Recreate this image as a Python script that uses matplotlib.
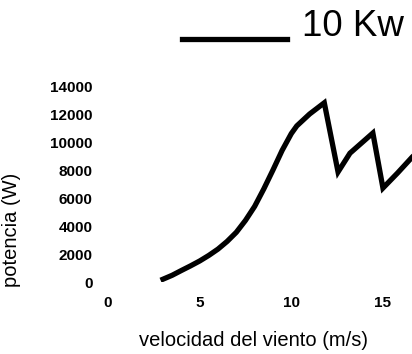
#!/usr/bin/env python3

import matplotlib
matplotlib.rcParams['font.family'] = ['Liberation Sans', 'DejaVu Sans']
import matplotlib.pyplot as plt
from matplotlib.legend_handler import HandlerLine2D


# wind speed (m/s) and power (W)
velocidad = [3, 3.5, 4, 4.5, 5, 5.5, 6, 6.5, 7, 7.5, 8, 8.5, 9, 9.5, 10,
             10.3, 11, 11.8, 12.55, 13.2, 14.45, 15.0, 15.8, 16.6, 17.0]
potencia = [200, 480, 820, 1150, 1500, 1900, 2350, 2900, 3550, 4400, 5400,
            6650, 8000, 9400, 10600, 11150, 12000, 12800, 7860, 9200, 10640,
            6710, 7790, 8930, 9400]

x_ticks = [0, 5, 10, 15]
y_ticks = [0, 2000, 4000, 6000, 8000, 10000, 12000, 14000]
serie = "10 Kw"


class BaselineLine(HandlerLine2D):
    # put the legend line on the text baseline instead of mid-height
    def create_artists(self, legend, orig_handle, xdescent, ydescent,
                       width, height, fontsize, trans):
        arts = super().create_artists(legend, orig_handle, xdescent, ydescent,
                                      width, height, fontsize, trans)
        for a in arts:
            yd = a.get_ydata()
            a.set_ydata([y - 0.42 * fontsize for y in yd])
        return arts


fig = plt.figure(figsize=(4.12, 3.54), dpi=100)
ax = fig.add_axes([108/412, 1 - 282/354, 304/412, 196/354])

line, = ax.plot(velocidad, potencia, color="black", lw=3.8,
                solid_joinstyle="miter", label=serie)

ax.set_xlim(0, 304/18.33)
ax.set_ylim(0, 14000)
ax.set_xticks(x_ticks)
ax.set_yticks(y_ticks)
ax.tick_params(length=0, labelsize=11)
ax.tick_params(axis="y", pad=11)
ax.tick_params(axis="x", pad=10)
for lab in ax.get_xticklabels() + ax.get_yticklabels():
    lab.set_fontweight("bold")
for s in ax.spines.values():
    s.set_visible(False)

ax.set_xlabel("velocidad del viento (m/s)", fontsize=14.5)
ax.xaxis.set_label_coords(0.48, -0.25)
ax.set_ylabel("potencia (W)", fontsize=14.5)
ax.yaxis.set_label_coords(-0.285, 0.265)

fig.legend(handles=[line], loc="lower left",
           bbox_to_anchor=(182/412, 1 - 44/354), frameon=False,
           fontsize=26.5, borderpad=0, borderaxespad=0,
           handlelength=2.85, handletextpad=0.4,
           handler_map={line: BaselineLine()})

fig.savefig("out.png", dpi=100)
plt.close(fig)
